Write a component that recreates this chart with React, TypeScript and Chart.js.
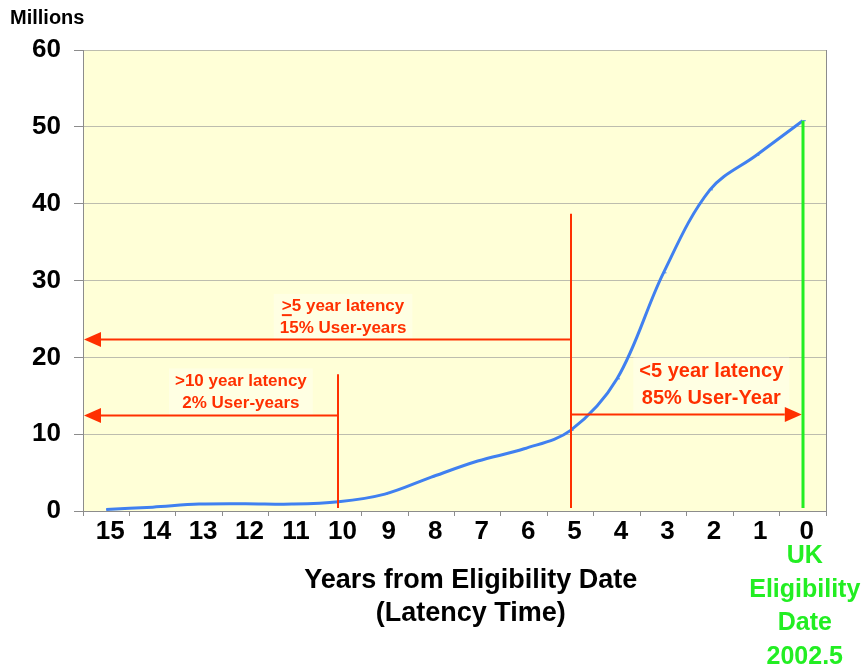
import React, { useEffect, useRef } from 'react';
import { Chart, registerables } from 'chart.js';

Chart.register(...registerables);

// ---- data ----
const categories = ['15', '14', '13', '12', '11', '10', '9', '8', '7', '6', '5', '4', '3', '2', '1', '0'];
const users = [0.2, 0.5, 0.9, 0.95, 0.9, 1.2, 2.2, 4.4, 6.5, 8.1, 10.5, 17.2, 31.0, 41.8, 46.3, 50.8];
const yMin = 0;
const yMax = 60;
const yStep = 10;

// latency markers (category, top value)
const latencyMarkerCats = ['10', '5'];
const latencyMarkerTops = [17.8, 38.7];
const eligibilityCat = '0';
const eligibilityTop = 50.8;

// arrows: start category, end category (null = y axis), value
const arrowStarts = ['5', '10', '5'];
const arrowEnds: (string | null)[] = [null, null, '0'];
const arrowValues = [22.4, 12.5, 12.6];

const annotationLines = [
  ['>5 year latency', '15% User-years'],
  ['>10 year latency', '2% User-years'],
  ['<5 year latency', '85% User-Year'],
];
const annotationUnderlineFirst = [true, false, false];
const annotationX = [5.1, 2.9, 13.03]; // category index
const annotationY = [26.6, 16.9, 18.1]; // value of first line
const annotationY2 = [23.8, 14.05, 14.7];
const annotationSize = [17, 17, 20];

const eligibilityText = ['UK', 'Eligibility', 'Date', '2002.5'];
const xTitle = ['Years from Eligibility Date', '(Latency Time)'];
const yUnit = 'Millions';

// ---- styles ----
const FONT = "Arial, 'Liberation Sans', Helvetica, sans-serif";
const BG = '#FFFFD7';
const RED = '#FF3000';
const GREEN = '#22EE22';
const BLUE = '#4080F0';
const GRID = '#BDBDAE';
const AXIS = '#8C8C8C';

const overlay = {
  id: 'overlay',
  beforeDraw(chart: any) {
    const { ctx, chartArea: a } = chart;
    ctx.save();
    ctx.fillStyle = BG;
    ctx.fillRect(a.left, a.top, a.right - a.left, a.bottom - a.top);
    ctx.restore();
  },
  afterDatasetsDraw(chart: any) {
    const { ctx, chartArea: a } = chart;
    const xs = chart.scales.x;
    const ys = chart.scales.y;
    const cx = (c: string) => xs.getPixelForValue(categories.indexOf(c));
    ctx.save();
    // right frame
    ctx.strokeStyle = AXIS;
    ctx.lineWidth = 1;
    ctx.beginPath();
    ctx.moveTo(a.right + 0.5, a.top);
    ctx.lineTo(a.right + 0.5, a.bottom);
    ctx.stroke();

    // text backgrounds
    annotationLines.forEach((lines, i) => {
      const x = xs.getPixelForValue(annotationX[i]);
      const y1 = ys.getPixelForValue(annotationY[i]);
      const y2 = ys.getPixelForValue(annotationY2[i]);
      ctx.font = `bold ${annotationSize[i]}px ${FONT}`;
      const w = Math.max(...lines.map((l) => ctx.measureText(l).width));
      ctx.fillStyle = 'rgba(255,255,255,0.3)';
      ctx.fillRect(x - w / 2 - 6, y1 - annotationSize[i] * 0.75, w + 12, y2 - y1 + annotationSize[i] * 1.5);
    });

    // vertical latency markers
    ctx.strokeStyle = RED;
    ctx.lineWidth = 2;
    latencyMarkerCats.forEach((c, i) => {
      const x = Math.round(cx(c));
      ctx.beginPath();
      ctx.moveTo(x, ys.getPixelForValue(latencyMarkerTops[i]));
      ctx.lineTo(x, ys.getPixelForValue(0.4));
      ctx.stroke();
    });

    // arrows
    arrowStarts.forEach((s, i) => {
      const x1 = Math.round(cx(s));
      const end = arrowEnds[i];
      const x2 = end === null ? a.left + 1 : cx(end) - 1;
      const y = Math.round(ys.getPixelForValue(arrowValues[i])) + 0.5;
      const dir = x2 > x1 ? 1 : -1;
      const head = 17;
      ctx.strokeStyle = RED;
      ctx.lineWidth = 2;
      ctx.beginPath();
      ctx.moveTo(x1, y);
      ctx.lineTo(x2 - dir * head, y);
      ctx.stroke();
      ctx.fillStyle = RED;
      ctx.beginPath();
      ctx.moveTo(x2, y);
      ctx.lineTo(x2 - dir * head, y - 7.5);
      ctx.lineTo(x2 - dir * head, y + 7.5);
      ctx.closePath();
      ctx.fill();
    });

    // eligibility line
    ctx.strokeStyle = GREEN;
    ctx.lineWidth = 3;
    const gx = Math.round(cx(eligibilityCat));
    ctx.beginPath();
    ctx.moveTo(gx, ys.getPixelForValue(eligibilityTop));
    ctx.lineTo(gx, ys.getPixelForValue(0.4));
    ctx.stroke();

    // annotation text
    annotationLines.forEach((lines, i) => {
      const x = xs.getPixelForValue(annotationX[i]);
      const ysArr = [ys.getPixelForValue(annotationY[i]), ys.getPixelForValue(annotationY2[i])];
      ctx.font = `bold ${annotationSize[i]}px ${FONT}`;
      ctx.fillStyle = RED;
      ctx.textAlign = 'center';
      ctx.textBaseline = 'middle';
      lines.forEach((l, j) => ctx.fillText(l, x, ysArr[j]));
      if (annotationUnderlineFirst[i]) {
        const w = ctx.measureText(lines[0]).width;
        const cw = ctx.measureText(lines[0][0]).width;
        const left = x - w / 2;
        ctx.strokeStyle = RED;
        ctx.lineWidth = 2;
        ctx.beginPath();
        ctx.moveTo(left, ysArr[0] + annotationSize[i] * 0.5);
        ctx.lineTo(left + cw, ysArr[0] + annotationSize[i] * 0.5);
        ctx.stroke();
      }
    });
    ctx.restore();
  },
  afterDraw(chart: any) {
    const { ctx, chartArea: a } = chart;
    const xs = chart.scales.x;
    ctx.save();
    ctx.fillStyle = '#000';
    ctx.textBaseline = 'middle';
    ctx.font = `bold 20px ${FONT}`;
    ctx.textAlign = 'left';
    ctx.fillText(yUnit, 10, a.top - 32);

    ctx.font = `bold 27px ${FONT}`;
    ctx.textAlign = 'center';
    const tx = xs.getPixelForValue(7.85);
    ctx.fillText(xTitle[0], tx, a.bottom + 70);
    ctx.fillText(xTitle[1], tx, a.bottom + 103);

    ctx.fillStyle = GREEN;
    ctx.font = `bold 25px ${FONT}`;
    const gx = xs.getPixelForValue(categories.indexOf(eligibilityCat));
    eligibilityText.forEach((t, i) => ctx.fillText(t, gx + 2, a.bottom + 45 + i * 33.8));
    ctx.restore();
  },
};

export default function App() {
  const ref = useRef<HTMLCanvasElement>(null);
  useEffect(() => {
    document.body.style.margin = '0';
    const chart = new Chart(ref.current!, {
      type: 'line',
      data: {
        labels: categories,
        datasets: [
          {
            data: users,
            borderColor: BLUE,
            backgroundColor: BLUE,
            borderWidth: 3,
            tension: 0.35,
            pointStyle: 'dash',
            pointRadius: 3,
            pointBorderWidth: 1,
            pointBorderColor: BLUE,
          },
        ],
      },
      options: {
        responsive: false,
        animation: false,
        layout: { padding: { left: 0, right: 41, top: 50, bottom: 0 } },
        plugins: { legend: { display: false }, tooltip: { enabled: false } },
        scales: {
          x: {
            type: 'category',
            offset: true,
            grid: { offset: true, drawOnChartArea: false, drawTicks: true, tickLength: 5, color: AXIS },
            border: { color: AXIS },
            ticks: {
              color: '#000',
              font: { family: FONT, size: 26, weight: 'bold' },
              padding: 0,
              labelOffset: 4,
              maxRotation: 0,
              autoSkip: false,
            },
            afterFit: (s: any) => {
              s.height = 156;
            },
          },
          y: {
            min: yMin,
            max: yMax,
            ticks: { stepSize: yStep, color: '#000', font: { family: FONT, size: 26, weight: 'bold' }, padding: 13 },
            grid: { color: GRID, tickColor: AXIS, tickLength: 9 },
            border: { color: AXIS },
            afterFit: (s: any) => {
              s.width = 83;
            },
          },
        },
      },
      plugins: [overlay],
    });
    return () => chart.destroy();
  }, []);
  return (
    <div style={{ position: 'absolute', left: 0, top: 0, width: 867, height: 667 }}>
      <canvas ref={ref} width={867} height={667} />
    </div>
  );
}
